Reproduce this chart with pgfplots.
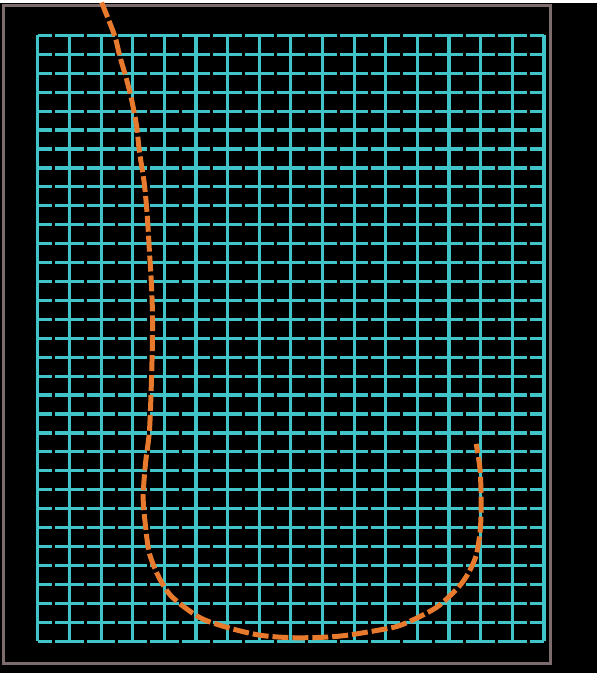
\documentclass[border=0pt]{standalone}
\usepackage{pgfplots}
\pgfplotsset{compat=1.18}
\definecolor{gridteal}{RGB}{64,196,200}
\definecolor{curveorange}{RGB}{232,122,46}
\definecolor{framegray}{RGB}{125,108,110}
\begin{document}
\begin{tikzpicture}[x=1pt,y=1pt]
\fill[black] (0,0) rectangle (599,673);
\draw[framegray, line width=3pt] (4,10) rectangle (553,670);
\begin{axis}[
  at={(38pt,32pt)}, anchor=south west,
  width=508pt, height=608pt, scale only axis,
  xmin=0, xmax=16, ymin=0, ymax=32,
  xtick={0,1,...,16}, ytick={0,1,...,32},
  xticklabels={}, yticklabels={},
  major tick length=0pt,
  axis line style={draw=none},
  grid=major,
  x grid style={gridteal, line width=3.2pt},
  y grid style={gridteal, line width=3.2pt, dash pattern=on 28.75pt off 3pt, dash phase=14.375pt},
  clip=false,
]
\addplot[curveorange, line width=5pt, smooth, dash pattern=on 16pt off 4pt] coordinates {
(2.016,33.74) (2.425,32.0) (2.583,30.95) (2.803,29.68) (2.961,28.63) (3.118,27.26)
(3.213,25.84) (3.370,24.11) (3.465,22.32) (3.528,20.58) (3.591,18.84) (3.622,17.42)
(3.622,15.84) (3.591,13.74) (3.528,11.11) (3.402,9.37) (3.330,7.58) (3.402,6.11)
(3.528,4.63) (3.843,3.32) (4.252,2.32) (5.102,1.26) (5.953,0.74) (6.992,0.32)
(8.031,0.18) (9.102,0.21) (9.827,0.32) (10.772,0.58) (11.402,0.80) (12.031,1.26)
(12.661,1.85) (13.291,2.84) (13.606,3.58) (13.858,4.53) (13.984,5.84) (14.016,7.16)
(13.984,9.0) (13.858,10.42)
};
\end{axis}
\end{tikzpicture}
\end{document}
